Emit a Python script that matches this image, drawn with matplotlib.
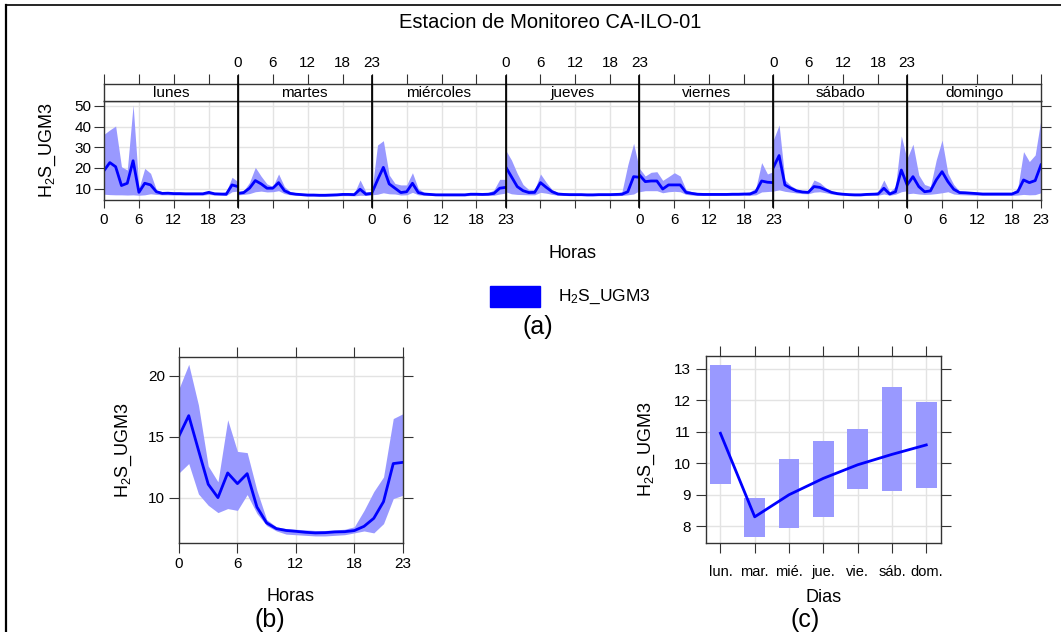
import matplotlib
matplotlib.use("Agg")
import matplotlib.pyplot as plt
from matplotlib.lines import Line2D
import numpy as np

plt.rcParams['font.family'] = ['Liberation Sans', 'DejaVu Sans']
plt.rcParams['mathtext.fontset'] = 'custom'
plt.rcParams['mathtext.rm'] = 'Liberation Sans'
plt.rcParams['mathtext.it'] = 'Liberation Sans'

# ---------------- data ----------------
days = ["lunes", "martes", "miércoles", "jueves", "viernes", "sábado", "domingo"]
days_short = ["lun.", "mar.", "mié.", "jue.", "vie.", "sáb.", "dom."]
hours = list(range(24))
hour_ticks = [0, 6, 12, 18, 23]

lunes_mean = [18.7, 22.6, 20.6, 11.5, 12.6, 23.5, 8.2, 12.6, 11.8, 8.5, 7.7, 7.8,
              7.6, 7.6, 7.5, 7.5, 7.5, 7.5, 8.2, 7.5, 7.4, 7.3, 11.8, 11.0]
lunes_up = [36.3, 38.4, 40.3, 20.6, 19.0, 50.5, 10.2, 19.8, 17.4, 9.4, 8.5, 8.3,
            8.2, 8.2, 8.1, 8.1, 8.1, 8.1, 8.8, 8.1, 8.0, 8.5, 15.5, 13.4]
lunes_lo = [7.3, 7.1, 7.0, 7.0, 6.9, 7.0, 6.8, 7.0, 7.5, 7.2, 7.0, 7.0,
            6.9, 6.9, 6.9, 6.9, 6.9, 6.9, 7.2, 6.9, 6.8, 6.7, 8.5, 8.8]

martes_mean = [7.7, 8.1, 10.2, 13.9, 12.3, 10.2, 10.2, 12.9, 9.0, 7.7, 7.3, 7.1,
               6.9, 6.9, 6.8, 6.8, 6.9, 7.0, 7.2, 7.2, 7.1, 9.7, 7.3, 7.7]
martes_up = [8.5, 9.0, 13.0, 20.3, 16.0, 12.3, 11.0, 17.1, 11.0, 8.5, 8.0, 7.7,
             7.5, 7.5, 7.4, 7.4, 7.5, 7.6, 7.9, 7.9, 7.8, 14.2, 8.5, 8.5]
martes_lo = [7.0, 7.2, 7.6, 8.5, 8.8, 8.4, 8.5, 9.0, 7.6, 7.0, 6.8, 6.6,
             6.4, 6.4, 6.3, 6.3, 6.4, 6.5, 6.6, 6.6, 6.5, 6.8, 6.7, 6.9]

miercoles_mean = [7.7, 14.2, 20.3, 12.3, 10.2, 8.1, 8.5, 12.6, 8.1, 7.4, 7.2, 7.0,
                  7.0, 7.0, 7.0, 7.0, 7.0, 7.3, 7.3, 7.2, 7.3, 7.7, 10.2, 10.6]
miercoles_up = [8.2, 31.1, 33.2, 16.6, 12.5, 11.8, 11.8, 17.7, 10.0, 8.2, 7.9, 7.7,
                7.6, 7.6, 7.6, 7.6, 7.6, 7.9, 7.9, 7.8, 8.0, 9.4, 14.5, 14.5]
miercoles_lo = [7.0, 7.3, 8.0, 7.5, 7.4, 6.9, 7.0, 8.2, 7.0, 6.8, 6.7, 6.6,
                6.5, 6.5, 6.5, 6.5, 6.5, 6.7, 6.7, 6.7, 6.7, 6.8, 7.4, 7.8]

jueves_mean = [20.6, 15.8, 11.0, 9.0, 8.1, 8.2, 12.9, 10.6, 8.5, 7.4, 7.2, 7.1,
               7.1, 7.1, 7.0, 7.0, 7.1, 7.1, 7.1, 7.2, 7.3, 8.5, 15.8, 15.5]
jueves_up = [28.7, 23.9, 17.4, 12.0, 9.5, 9.5, 17.1, 13.0, 9.5, 8.2, 7.9, 7.8,
             7.7, 7.7, 7.6, 7.6, 7.7, 7.7, 7.7, 7.8, 8.5, 21.5, 31.9, 19.4]
jueves_lo = [8.5, 7.5, 7.2, 7.1, 7.0, 7.0, 8.2, 7.8, 7.2, 6.8, 6.7, 6.6,
             6.6, 6.6, 6.5, 6.5, 6.6, 6.6, 6.6, 6.6, 6.7, 7.0, 7.4, 9.0]

viernes_mean = [16.6, 13.4, 13.7, 13.7, 9.8, 11.8, 11.8, 11.8, 8.2, 7.7, 7.3, 7.2,
                7.2, 7.2, 7.2, 7.2, 7.3, 7.3, 7.4, 7.4, 8.5, 13.7, 13.1, 12.9]
viernes_up = [19.8, 16.1, 17.9, 18.2, 14.0, 15.8, 17.7, 16.1, 9.5, 8.5, 8.0, 7.9,
              7.9, 7.9, 7.9, 7.9, 8.0, 8.0, 8.0, 8.5, 10.2, 22.6, 17.1, 18.2]
viernes_lo = [8.5, 9.0, 9.0, 9.0, 8.0, 8.5, 8.7, 8.5, 7.2, 6.9, 6.7, 6.7,
              6.7, 6.7, 6.7, 6.7, 6.7, 6.7, 6.8, 6.8, 7.0, 8.4, 8.6, 8.8]

sabado_mean = [20.2, 26.0, 11.8, 10.2, 8.9, 8.4, 8.2, 11.0, 10.6, 9.4, 8.2, 7.6,
               7.3, 7.1, 7.0, 7.0, 7.2, 7.3, 7.4, 10.2, 7.4, 8.5, 19.0, 11.8]
sabado_up = [33.5, 40.8, 14.2, 11.5, 9.8, 9.0, 9.0, 14.2, 12.9, 10.5, 8.8, 8.2,
             7.9, 7.7, 7.6, 7.6, 7.8, 7.9, 8.5, 14.2, 8.5, 11.0, 35.5, 23.9]
sabado_lo = [8.8, 9.4, 8.7, 8.3, 7.9, 7.6, 7.5, 8.3, 8.5, 8.0, 7.4, 7.0,
             6.8, 6.6, 6.5, 6.5, 6.7, 6.8, 6.8, 7.4, 6.8, 7.3, 8.5, 9.0]

domingo_mean = [11.8, 15.8, 11.0, 8.5, 8.9, 14.2, 18.2, 13.4, 9.7, 8.1, 8.0, 7.8,
                7.6, 7.4, 7.4, 7.4, 7.4, 7.4, 7.4, 8.5, 14.2, 12.9, 13.9, 21.5]
domingo_up = [24.7, 31.5, 16.6, 12.0, 11.0, 23.9, 33.5, 17.4, 12.0, 8.8, 8.6, 8.4,
              8.2, 8.0, 8.0, 8.0, 8.0, 8.0, 8.1, 10.2, 27.9, 23.1, 26.3, 43.7]
domingo_lo = [7.5, 7.8, 7.4, 7.2, 7.3, 7.6, 8.0, 8.5, 7.4, 7.1, 7.0, 6.9,
              6.8, 6.7, 6.7, 6.7, 6.7, 6.7, 6.7, 6.9, 7.2, 7.0, 7.1, 8.0]

week_mean = [lunes_mean, martes_mean, miercoles_mean, jueves_mean, viernes_mean, sabado_mean, domingo_mean]
week_up = [lunes_up, martes_up, miercoles_up, jueves_up, viernes_up, sabado_up, domingo_up]
week_lo = [lunes_lo, martes_lo, miercoles_lo, jueves_lo, viernes_lo, sabado_lo, domingo_lo]

hour_mean = [15.07, 16.74, 13.9, 11.1, 10.0, 12.03, 11.15, 11.97, 9.23, 7.92, 7.45, 7.3,
             7.23, 7.15, 7.1, 7.12, 7.18, 7.2, 7.29, 7.64, 8.3, 9.67, 12.8, 12.9]
hour_up = [18.96, 20.96, 17.6, 12.6, 11.3, 16.4, 13.8, 13.7, 10.6, 8.2, 7.6, 7.45,
           7.4, 7.35, 7.3, 7.3, 7.35, 7.4, 7.6, 8.95, 10.5, 11.7, 16.5, 16.9]
hour_lo = [12.03, 12.8, 10.3, 9.37, 8.77, 9.1, 8.95, 10.25, 8.7, 7.7, 7.26, 7.0,
           6.95, 6.9, 6.85, 6.85, 6.9, 6.95, 7.1, 7.26, 7.1, 7.86, 9.92, 10.2]

day_mean = [10.95, 8.3, 9.0, 9.52, 9.95, 10.28, 10.58]
day_lo = [9.33, 7.66, 7.95, 8.30, 9.18, 9.12, 9.22]
day_up = [13.13, 8.89, 10.12, 10.72, 11.10, 12.43, 11.93]

# ---------------- style ----------------
W, H = 1061, 632
LINE_C = (0, 0, 1)
BAND_C = (0.6, 0.6, 1.0)
GRID_C = '#e3e3e3'
AX_C = '#333333'
TICK_FS = 11
LAB_FS = 13
YLAB_FS = 13
PANEL_FS = 18
ylabel_txt = r'H$_2$S_UGM3'

fig = plt.figure(figsize=(W / 100, H / 100), dpi=100)


def ax_px(left, top, right, bottom):
    return fig.add_axes([left / W, 1 - bottom / H, (right - left) / W, (bottom - top) / H])


def style_spines(ax):
    for s in ax.spines.values():
        s.set_color(AX_C)
        s.set_linewidth(1.0)


# frame lines of the figure
fig.add_artist(Line2D([6 / W, 1], [1 - 5 / H, 1 - 5 / H], transform=fig.transFigure, color='black', lw=1.2))
fig.add_artist(Line2D([6 / W, 6 / W], [0, 1 - 5 / H], transform=fig.transFigure, color='black', lw=1.6))

# ---------------- (a) ----------------
x0, x1 = 104, 1041
pw = (x1 - x0) / 7
ptop, pbot = 101, 200
stop = 84
ylim_a = (4.5, 52.4)
for i, d in enumerate(days):
    l = x0 + i * pw
    r = x0 + (i + 1) * pw
    ax = ax_px(l, ptop, r, pbot)
    ax.fill_between(hours, week_lo[i], week_up[i], color=BAND_C, lw=0)
    ax.plot(hours, week_mean[i], color=LINE_C, lw=2)
    ax.set_xlim(0, 23)
    ax.set_ylim(*ylim_a)
    ax.set_xticks(hour_ticks)
    ax.set_yticks([10, 20, 30, 40, 50])
    ax.grid(True, color=GRID_C, lw=1)
    ax.set_axisbelow(True)
    style_spines(ax)
    ax.tick_params(axis='x', direction='out', length=6, color=AX_C, labelsize=TICK_FS, pad=3,
                   labelbottom=(i % 2 == 0))
    ax.tick_params(axis='y', direction='out', length=7, color=AX_C, labelsize=TICK_FS, pad=2,
                   left=(i == 0), labelleft=(i == 0), right=(i == 6), labelright=False)
    if i == 0:
        ax.set_ylabel(ylabel_txt, fontsize=YLAB_FS, labelpad=12)
    # strip
    sax = ax_px(l, stop, r, ptop)
    sax.set_xlim(0, 23)
    sax.set_ylim(0, 1)
    sax.set_yticks([])
    sax.set_xticks(hour_ticks)
    style_spines(sax)
    sax.tick_params(axis='x', direction='out', length=7, color=AX_C, labelsize=TICK_FS, pad=3,
                    bottom=False, labelbottom=False, top=True, labeltop=(i % 2 == 1))
    sax.text(11.5, 0.45, d, ha='center', va='center', fontsize=TICK_FS)

# separators between panels (black)
for i in range(1, 7):
    xx = (x0 + i * pw) / W
    fig.add_artist(Line2D([xx, xx], [1 - 207 / H, 1 - 76 / H], transform=fig.transFigure,
                          color='black', lw=1.2))

fig.text(550 / W, 1 - 22 / H, 'Estacion de Monitoreo CA-ILO-01', ha='center', va='center', fontsize=14.5)
fig.text(572 / W, 1 - 253 / H, 'Horas', ha='center', va='center', fontsize=LAB_FS)
fig.patches.append(matplotlib.patches.Rectangle((490 / W, 1 - 307 / H), 50 / W, 21 / H,
                                                transform=fig.transFigure, color=LINE_C))
fig.text(558 / W, 1 - 297 / H, ylabel_txt, ha='left', va='center', fontsize=12.5)
fig.text(538 / W, 1 - 327 / H, '(a)', ha='center', va='center', fontsize=PANEL_FS)

# ---------------- (b) ----------------
axb = ax_px(179, 357, 403, 543)
axb.fill_between(hours, hour_lo, hour_up, color=BAND_C, lw=0)
axb.plot(hours, hour_mean, color=LINE_C, lw=2)
axb.set_xlim(0, 23)
axb.set_ylim(6.27, 21.56)
axb.set_xticks(hour_ticks)
axb.set_yticks([10, 15, 20])
axb.grid(True, color=GRID_C, lw=1)
axb.set_axisbelow(True)
style_spines(axb)
axb.tick_params(direction='out', length=7, color=AX_C, labelsize=TICK_FS, pad=3,
                top=True, right=True, labeltop=False, labelright=False)
axb.set_xlabel('Horas', fontsize=LAB_FS, labelpad=12)
axb.set_ylabel(ylabel_txt, fontsize=YLAB_FS, labelpad=10)
fig.text(270 / W, 1 - 620 / H, '(b)', ha='center', va='center', fontsize=PANEL_FS)

# ---------------- (c) ----------------
axc = ax_px(706, 356, 941, 543)
xd = np.arange(len(days_short))
axc.bar(xd, np.array(day_up) - np.array(day_lo), bottom=day_lo, width=0.6, color=BAND_C, lw=0)
axc.plot(xd, day_mean, color=LINE_C, lw=2)
axc.set_xlim(-0.42, 6.43)
axc.set_ylim(7.47, 13.40)
axc.set_xticks(xd)
axc.set_xticklabels(days_short)
axc.set_yticks([8, 9, 10, 11, 12, 13])
axc.grid(True, color=GRID_C, lw=1)
axc.set_axisbelow(True)
style_spines(axc)
axc.tick_params(direction='out', length=7, color=AX_C, labelsize=TICK_FS, pad=4,
                top=True, right=True, labeltop=False, labelright=False)
axc.tick_params(axis='x', labelsize=10.5, pad=9)
axc.set_xlabel('Dias', fontsize=LAB_FS, labelpad=7)
axc.set_ylabel(ylabel_txt, fontsize=YLAB_FS, labelpad=12)
fig.text(805 / W, 1 - 620 / H, '(c)', ha='center', va='center', fontsize=PANEL_FS)

fig.savefig('out.png', dpi=100)
